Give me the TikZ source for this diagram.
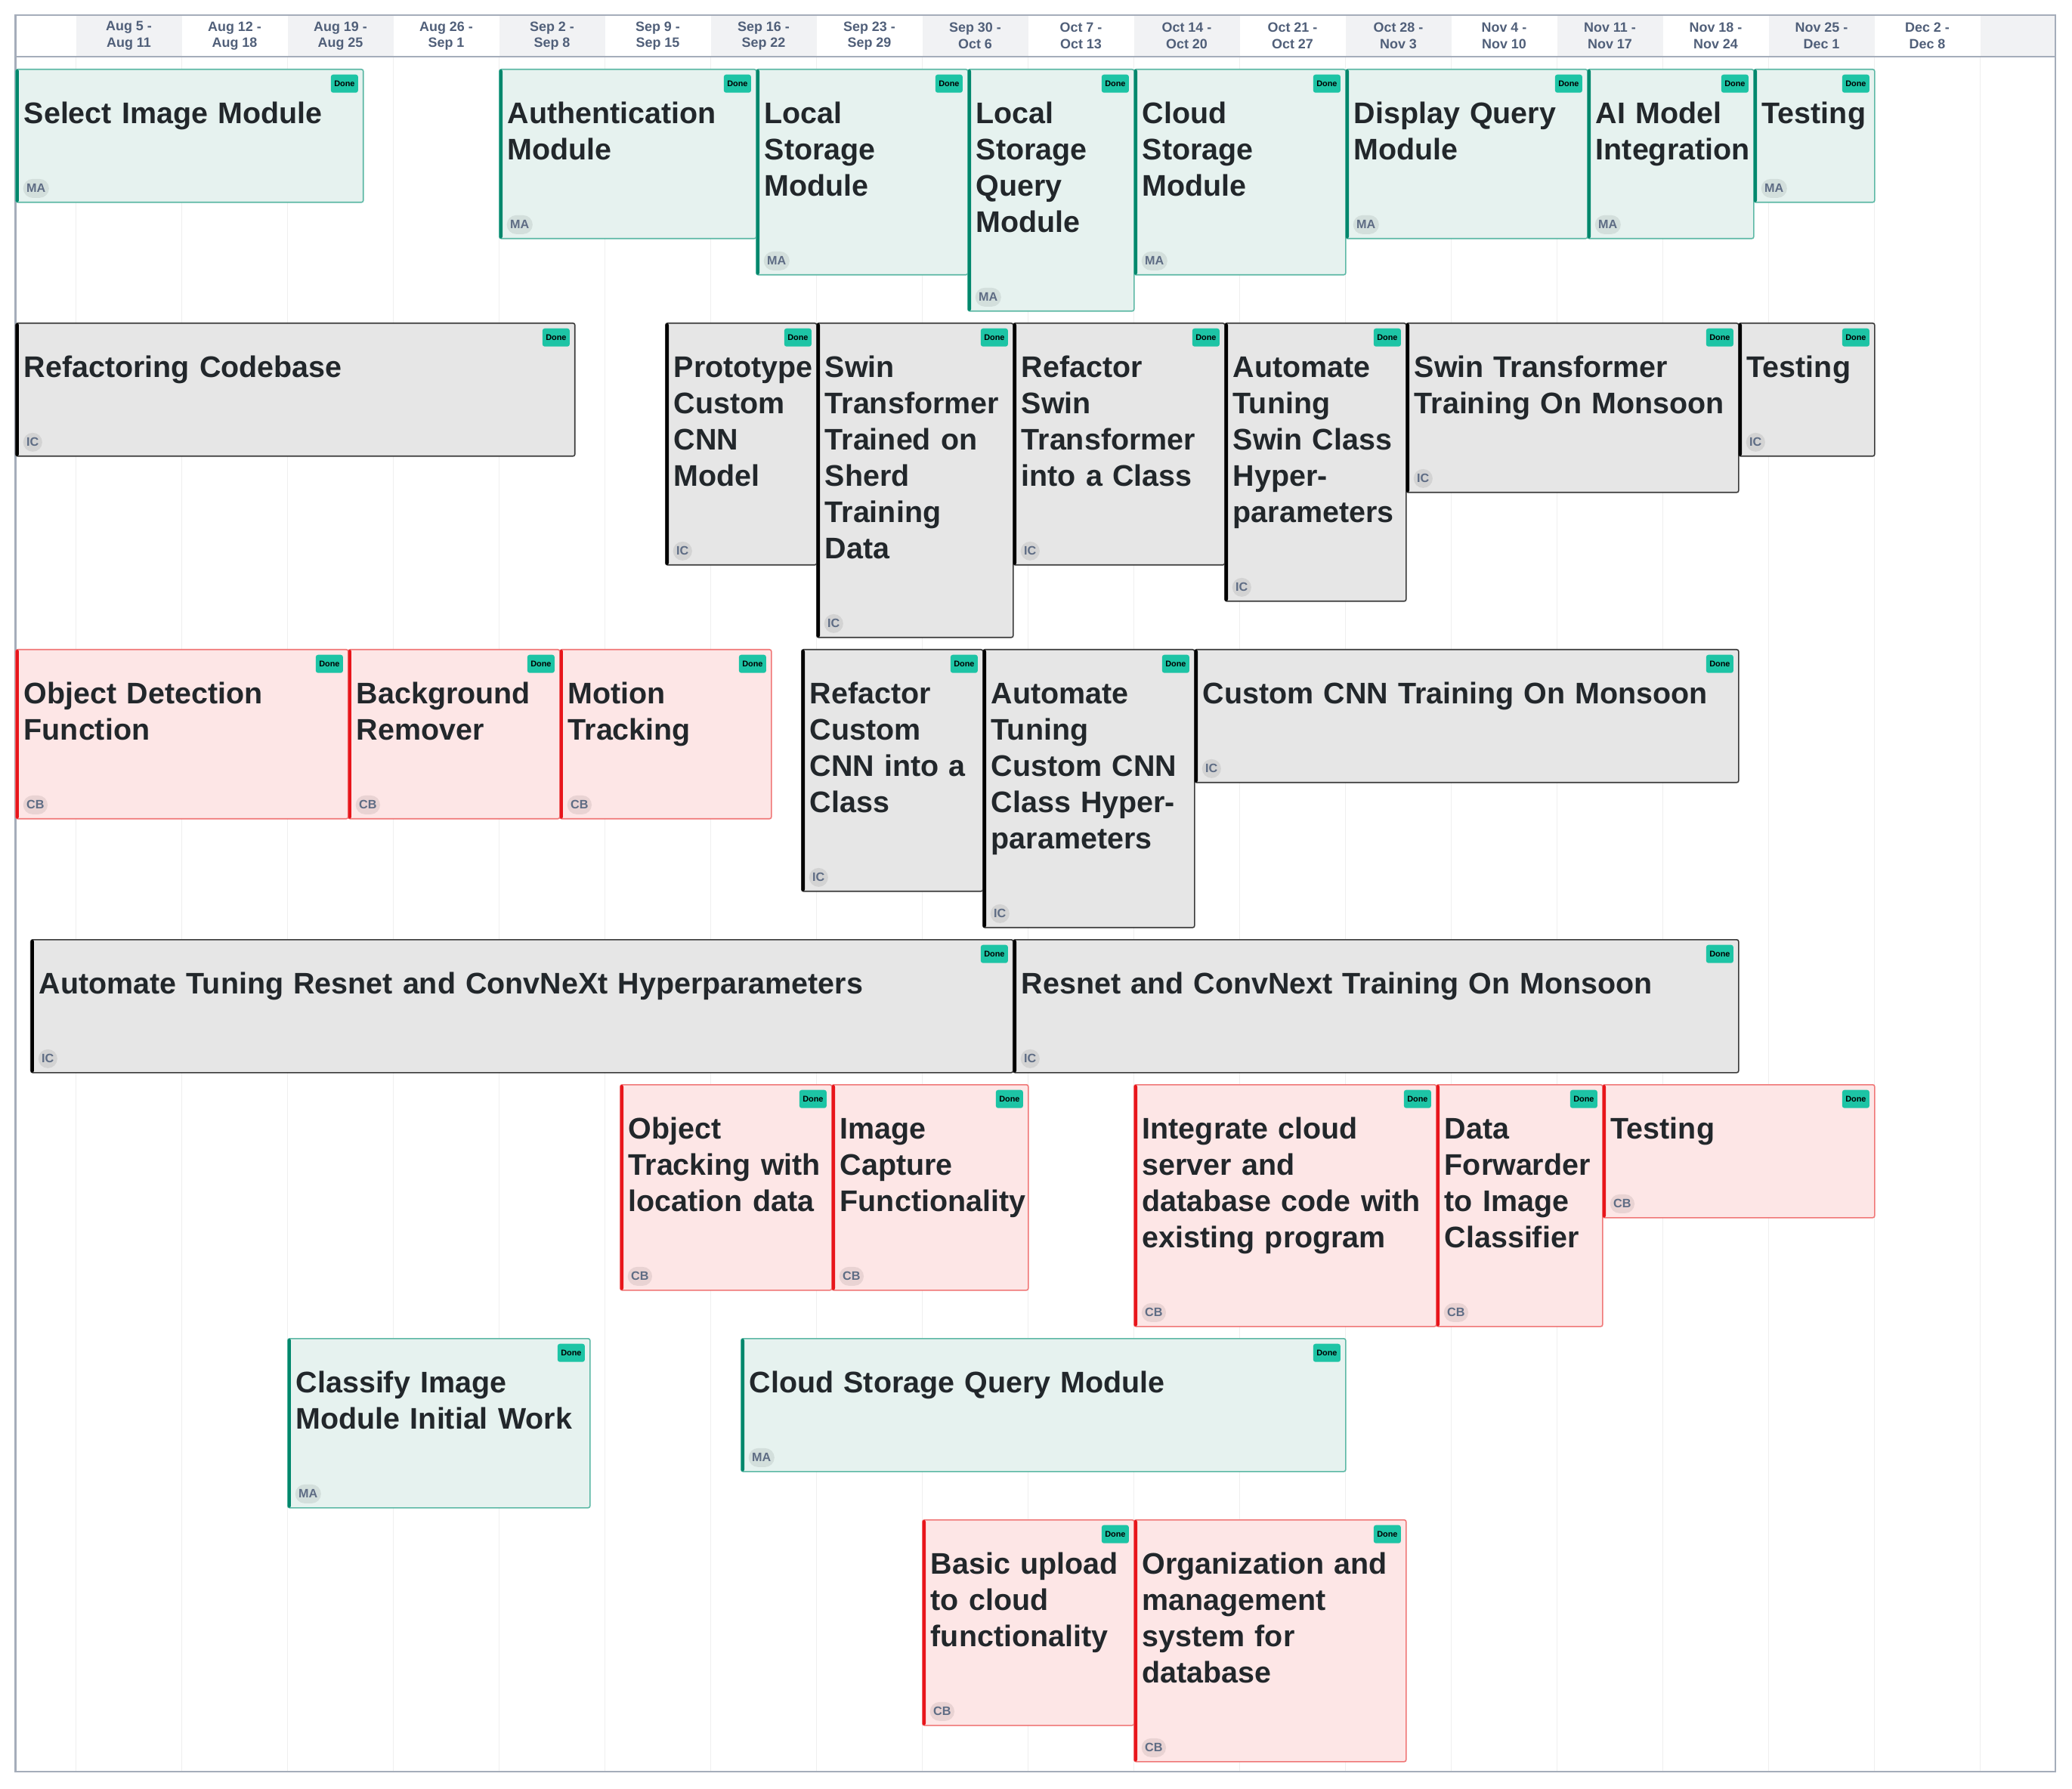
\documentclass[tikz,border=0pt]{standalone}
\usepackage{fontspec}
\setmainfont{Liberation Sans}

\definecolor{tealfill}{HTML}{E6F2EF}
\definecolor{tealline}{HTML}{5CB8A5}
\definecolor{tealbar}{HTML}{00876C}
\definecolor{grayfill}{HTML}{E6E6E6}
\definecolor{grayline}{HTML}{3A3A3A}
\definecolor{redfill}{HTML}{FDE6E6}
\definecolor{redline}{HTML}{F07777}
\definecolor{redbar}{HTML}{E8151B}
\definecolor{donefill}{HTML}{1DC4A5}
\definecolor{titleink}{HTML}{22272B}
\definecolor{headink}{HTML}{505F79}
\definecolor{initink}{HTML}{5E6C84}
\definecolor{headshade}{HTML}{F1F2F4}
\definecolor{gridgray}{HTML}{EFEFEF}
\definecolor{framegray}{HTML}{A5ADBA}

\hyphenpenalty=10000

\begin{document}
\begin{tikzpicture}[
    weekhead/.style={align=center, text=headink, font=\bfseries\fontsize{5.1}{6.15}\selectfont},
    gridline/.style={draw=gridgray, line width=0.55pt},
    frameline/.style={draw=framegray, line width=0.75pt},
    card/.style={draw, line width=0.45pt, rounded corners=0.025cm, anchor=north west, align=left,
        inner xsep=0.11cm, inner ysep=0pt, text height=0.72cm, text=titleink,
        font=\bfseries\fontsize{11.22}{13.66}\selectfont,
        execute at begin node={\rightskip=-0.15cm plus 1fil \hyphenpenalty=10000 },
        label={[donetag]north east:Done}},
    cardsize/.style 2 args={/utils/exec={\pgfmathsetlengthmacro\cardtw{0.2cm*#1-0.22cm}%
        \pgfmathsetlengthmacro\carddp{0.56cm+0.48cm*#2}}, text width=\cardtw, text depth=\carddp},
    bar/.style={postaction={path picture={\fill[#1] (path picture bounding box.north west)
        rectangle ([xshift=0.042cm]path picture bounding box.south west);}}},
    donetag/.style={anchor=north east, xshift=-0.07cm, yshift=-0.07cm, fill=donefill,
        rounded corners=0.03cm, minimum width=0.36cm, minimum height=0.24cm, inner sep=0pt,
        text=black, font=\bfseries\fontsize{3.1}{3.1}\selectfont},
    inittag/.style={anchor=south west, xshift=0.10cm, yshift=0.06cm, fill=black, fill opacity=0.08,
        text opacity=1, rounded corners=0.125cm, minimum width=0.25cm, minimum height=0.25cm,
        inner xsep=0.045cm, inner ysep=0pt, text=initink, font=\bfseries\fontsize{4.6}{4.6}\selectfont},
    macard/.style={card, fill=tealfill, draw=tealline, bar=tealbar, label={[inittag]south west:MA}},
    iccard/.style={card, fill=grayfill, draw=grayline, bar=black, label={[inittag]south west:IC}},
    cbcard/.style={card, fill=redfill, draw=redline, bar=redbar, label={[inittag]south west:CB}}
]
\useasboundingbox (0,0) rectangle (27.42,-23.68);

% header and week grid
\foreach \i in {0,2,...,16}
    \fill[headshade] ({1.005+1.4*\i},-0.20) rectangle ({2.405+1.4*\i},-0.75);
\fill[headshade] (26.205,-0.20) rectangle (27.2,-0.75);
\foreach \i in {0,...,18}
    \draw[gridline] ({1.005+1.4*\i},-0.76) -- ({1.005+1.4*\i},-23.44);
\foreach \wk [count=\i from 0] in {{Aug 5 -\\Aug 11},{Aug 12 -\\Aug 18},{Aug 19 -\\Aug 25},
    {Aug 26 -\\Sep 1},{Sep 2 -\\Sep 8},{Sep 9 -\\Sep 15},{Sep 16 -\\Sep 22},{Sep 23 -\\Sep 29},
    {Sep 30 -\\Oct 6},{Oct 7 -\\Oct 13},{Oct 14 -\\Oct 20},{Oct 21 -\\Oct 27},{Oct 28 -\\Nov 3},
    {Nov 4 -\\Nov 10},{Nov 11 -\\Nov 17},{Nov 18 -\\Nov 24},{Nov 25 -\\Dec 1},{Dec 2 -\\Dec 8}}
    \node[weekhead] (week\i) at ({1.705+1.4*\i},-0.475) {\wk};
\draw[frameline] (0.205,-0.20) rectangle (27.2,-23.45);
\draw[frameline] (0.205,-0.75) -- (27.2,-0.75);

% row 1
\node[macard, cardsize={23}{1}] (selectImage) at (0.2,-0.91) {Select Image Module};
\node[macard, cardsize={17}{2}] (authModule) at (6.6,-0.91) {Authentication\\Module};
\node[macard, cardsize={14}{3}] (localStorage) at (10.0,-0.91) {Local\\Storage\\Module};
\node[macard, cardsize={11}{4}] (localQuery) at (12.8,-0.91) {Local\\Storage\\Query\\Module};
\node[macard, cardsize={14}{3}] (cloudStorage) at (15.0,-0.91) {Cloud\\Storage\\Module};
\node[macard, cardsize={16}{2}] (displayQuery) at (17.8,-0.91) {Display Query\\Module};
\node[macard, cardsize={11}{2}] (aiModel) at (21.0,-0.91) {AI Model\\Integration};
\node[macard, cardsize={8}{1}] (maTesting) at (23.2,-0.91) {Testing};

% row 2
\node[iccard, cardsize={37}{1}] (refactorCode) at (0.2,-4.27) {Refactoring Codebase};
\node[iccard, cardsize={10}{4}] (protoCnn) at (8.8,-4.27) {Prototype\\Custom\\CNN\\Model};
\node[iccard, cardsize={13}{6}] (swinSherd) at (10.8,-4.27) {Swin\\Transformer\\Trained on\\Sherd\\Training\\Data};
\node[iccard, cardsize={14}{4}] (swinClass) at (13.4,-4.27) {Refactor\\Swin\\Transformer\\into a Class};
\node[iccard, cardsize={12}{5}] (swinTuning) at (16.2,-4.27) {Automate\\Tuning\\Swin Class\\Hyper-\\parameters};
\node[iccard, cardsize={22}{2}] (swinMonsoon) at (18.6,-4.27) {Swin Transformer\\Training On Monsoon};
\node[iccard, cardsize={9}{1}] (icTesting) at (23.0,-4.27) {Testing};

% row 3
\node[cbcard, cardsize={22}{2}] (objDetect) at (0.2,-8.59) {Object Detection\\Function};
\node[cbcard, cardsize={14}{2}] (bgRemover) at (4.6,-8.59) {Background\\Remover};
\node[cbcard, cardsize={14}{2}] (motionTrack) at (7.4,-8.59) {Motion\\Tracking};
\node[iccard, cardsize={12}{4}] (cnnClass) at (10.6,-8.59) {Refactor\\Custom\\CNN into a\\Class};
\node[iccard, cardsize={14}{5}] (cnnTuning) at (13.0,-8.59) {Automate\\Tuning\\Custom CNN\\Class Hyper-\\parameters};
\node[iccard, cardsize={36}{1}] (cnnMonsoon) at (15.8,-8.59) {Custom CNN Training On Monsoon};

% row 4
\node[iccard, cardsize={65}{1}] (resnetTuning) at (0.4,-12.43) {Automate Tuning Resnet and ConvNeXt Hyperparameters};
\node[iccard, cardsize={48}{1}] (resnetMonsoon) at (13.4,-12.43) {Resnet and ConvNext Training On Monsoon};

% row 5
\node[cbcard, cardsize={14}{3}] (objTracking) at (8.2,-14.35) {Object\\Tracking with\\location data};
\node[cbcard, cardsize={13}{3}] (imgCapture) at (11.0,-14.35) {Image\\Capture\\Functionality};
\node[cbcard, cardsize={20}{4}] (cloudIntegrate) at (15.0,-14.35) {Integrate cloud\\server and\\database code with\\existing program};
\node[cbcard, cardsize={11}{4}] (dataForward) at (19.0,-14.35) {Data\\Forwarder\\to Image\\Classifier};
\node[cbcard, cardsize={18}{1}] (cbTesting) at (21.2,-14.35) {Testing};

% row 6
\node[macard, cardsize={20}{2}] (classifyInit) at (3.8,-17.71) {Classify Image\\Module Initial Work};
\node[macard, cardsize={40}{1}] (cloudQuery) at (9.8,-17.71) {Cloud Storage Query Module};

% row 7
\node[cbcard, cardsize={14}{3}] (basicUpload) at (12.2,-20.11) {Basic upload\\to cloud\\functionality};
\node[cbcard, cardsize={18}{4}] (dbSystem) at (15.0,-20.11) {Organization and\\management\\system for\\database};

\end{tikzpicture}
\end{document}
